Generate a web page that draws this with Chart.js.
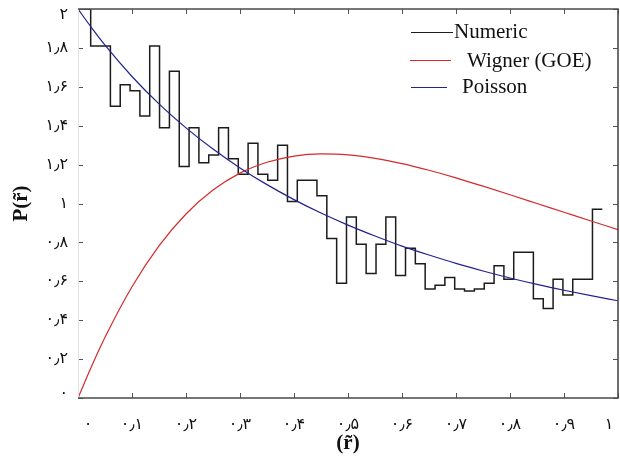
<!DOCTYPE html>
<html>
<head>
<meta charset="utf-8">
<title>P(r̃)</title>
<script src="https://cdn.jsdelivr.net/npm/chart.js@4.4.0/dist/chart.umd.min.js"></script>
<style>
  html, body { margin: 0; padding: 0; background: #fff; }
  #wrap { width: 620px; height: 458px; }
</style>
</head>
<body>
<div id="wrap"><canvas id="spacingChart" width="620" height="458"></canvas></div>
<script>
// --- data ---

// stairs of the numeric histogram (x where each step starts, level after it)
const numericX = [0, 0.0235, 0.0417, 0.0600, 0.0782, 0.0964, 0.1146, 0.1328, 0.1510, 0.1693,
  0.1875, 0.2057, 0.2239, 0.2421, 0.2604, 0.2786, 0.2968, 0.3150, 0.3332, 0.3514,
  0.3697, 0.3879, 0.4061, 0.4243, 0.4425, 0.4608, 0.4790, 0.4972, 0.5154, 0.5336,
  0.5519, 0.5701, 0.5883, 0.6065, 0.6247, 0.6429, 0.6612, 0.6794, 0.6976, 0.7158,
  0.7340, 0.7523, 0.7705, 0.7887, 0.8069, 0.8251, 0.8433, 0.8616, 0.8798, 0.8980,
  0.9162, 0.9344, 0.9527, 0.9709];
const numericY = [1.59, 2.00, 1.81, 1.81, 1.50, 1.61, 1.58, 1.45, 1.81, 1.39,
  1.68, 1.19, 1.39, 1.21, 1.25, 1.39, 1.23, 1.15, 1.31, 1.15,
  1.12, 1.30, 1.01, 1.12, 1.12, 1.04, 0.82, 0.59, 0.93, 0.79,
  0.64, 0.79, 0.93, 0.63, 0.77, 0.69, 0.56, 0.58, 0.62, 0.56,
  0.55, 0.56, 0.59, 0.68, 0.61, 0.75, 0.75, 0.51, 0.46, 0.61,
  0.53, 0.61, 0.61, 0.97];

// smooth reference curves
const curveX = [0, 0.025, 0.05, 0.1, 0.15, 0.2, 0.25, 0.3, 0.35, 0.4, 0.45,
  0.5, 0.55, 0.6, 0.65, 0.7, 0.75, 0.8, 0.85, 0.9, 0.95, 1];
const wignerY = [0, 0.162, 0.312, 0.572, 0.782, 0.946, 1.069, 1.156, 1.212, 1.244, 1.255,
  1.250, 1.232, 1.205, 1.171, 1.132, 1.089, 1.045, 1.000, 0.955, 0.910, 0.866];
const poissonY = [2.000, 1.904, 1.814, 1.653, 1.512, 1.389, 1.280, 1.183, 1.097, 1.020, 0.951,
  0.889, 0.833, 0.781, 0.735, 0.692, 0.653, 0.617, 0.584, 0.554, 0.526, 0.500];

// tick labels (Persian digits)
const xTickLabels = ['۰', '۰٫۱', '۰٫۲', '۰٫۳', '۰٫۴', '۰٫۵', '۰٫۶', '۰٫۷', '۰٫۸', '۰٫۹', '۱'];
const yTickLabels = ['۰', '۰٫۲', '۰٫۴', '۰٫۶', '۰٫۸', '۱', '۱٫۲', '۱٫۴', '۱٫۶', '۱٫۸', '۲'];

const seriesNames = ['Numeric', 'Wigner (GOE)', 'Poisson'];
const seriesColors = ['#1c1c1c', '#d42a2a', '#23238f'];

const toPoints = (xs, ys) => xs.map((x, i) => ({ x: x, y: ys[i] }));

// --- box with inward ticks on all four sides (MATLAB look) ---
const frameTicks = {
  id: 'frameTicks',
  afterDatasetsDraw(chart) {
    const { ctx, chartArea: a, scales } = chart;
    const len = 5;
    ctx.save();
    ctx.strokeStyle = '#555';
    ctx.lineWidth = 1;
    ctx.beginPath();
    scales.x.ticks.forEach(t => {
      const px = Math.round(scales.x.getPixelForValue(t.value)) + 0.5;
      ctx.moveTo(px, a.bottom); ctx.lineTo(px, a.bottom - len);
      ctx.moveTo(px, a.top); ctx.lineTo(px, a.top + len);
    });
    scales.y.ticks.forEach(t => {
      const py = Math.round(scales.y.getPixelForValue(t.value)) + 0.5;
      ctx.moveTo(a.left, py); ctx.lineTo(a.left + len, py);
      ctx.moveTo(a.right, py); ctx.lineTo(a.right - len, py);
    });
    ctx.stroke();

    ctx.strokeStyle = '#e2e2e2';
    ctx.beginPath();
    ctx.moveTo(a.left + 0.5, a.top); ctx.lineTo(a.left + 0.5, a.bottom);
    ctx.stroke();

    ctx.strokeStyle = '#4a4a4a';
    ctx.lineWidth = 1.6;
    ctx.beginPath();
    ctx.moveTo(a.left, a.top); ctx.lineTo(a.right, a.top);
    ctx.lineTo(a.right, a.bottom); ctx.lineTo(a.left, a.bottom);
    ctx.stroke();
    ctx.restore();
  }
};

// --- legend inside the plot, top right ---
const insideLegend = {
  id: 'insideLegend',
  afterDraw(chart) {
    const ctx = chart.ctx;
    const rows = [
      { x1: 411, x2: 453, ly: 32.5, tx: 454, ty: 37.5 },
      { x1: 410, x2: 451, ly: 60.5, tx: 467, ty: 66.5 },
      { x1: 411, x2: 447, ly: 87.5, tx: 462, ty: 92.5 }
    ];
    ctx.save();
    ctx.font = '21px "Liberation Serif", "Times New Roman", serif';
    ctx.textBaseline = 'alphabetic';
    ctx.textAlign = 'left';
    rows.forEach((r, i) => {
      ctx.strokeStyle = seriesColors[i];
      ctx.lineWidth = 1.2;
      ctx.beginPath();
      ctx.moveTo(r.x1, r.ly); ctx.lineTo(r.x2, r.ly);
      ctx.stroke();
      ctx.fillStyle = '#111';
      ctx.fillText(seriesNames[i], r.tx, r.ty);
    });
    ctx.restore();
  }
};

// --- nudge the end tick labels inward, like the original ---
const endLabels = {
  id: 'endLabels',
  beforeDraw(chart) {
    const shift = (scale, first, last) => {
      const items = scale.getLabelItems();
      if (!items || !items.length) return;
      const a = items[0], b = items[items.length - 1];
      if (a._moved) return;
      a.options.translation[first[0]] += first[1];
      b.options.translation[last[0]] += last[1];
      a._moved = true;
    };
    shift(chart.scales.x, [0, 10], [0, -9]);
    shift(chart.scales.y, [1, -4], [1, 6]);
  }
};

const tickFont = { family: '"DejaVu Sans", sans-serif', size: 16 };
const titleFont = { family: '"Liberation Serif", "Times New Roman", serif', size: 21, weight: 'bold' };

new Chart(document.getElementById('spacingChart'), {
  type: 'line',
  data: {
    datasets: [
      {
        label: seriesNames[0],
        data: toPoints(numericX, numericY),
        borderColor: seriesColors[0],
        borderWidth: 1.5,
        stepped: 'after',
        pointRadius: 0,
        fill: false,
        order: 2
      },
      {
        label: seriesNames[1],
        data: toPoints(curveX, wignerY),
        borderColor: seriesColors[1],
        borderWidth: 1.2,
        cubicInterpolationMode: 'monotone',
        pointRadius: 0,
        fill: false,
        order: 1
      },
      {
        label: seriesNames[2],
        data: toPoints(curveX, poissonY),
        borderColor: seriesColors[2],
        borderWidth: 1.2,
        cubicInterpolationMode: 'monotone',
        pointRadius: 0,
        fill: false,
        order: 0
      }
    ]
  },
  options: {
    responsive: false,
    maintainAspectRatio: false,
    devicePixelRatio: 1,
    animation: false,
    layout: { padding: { left: 0, right: 2, top: 9, bottom: 0 } },
    plugins: {
      legend: { display: false },
      tooltip: { enabled: false }
    },
    scales: {
      x: {
        type: 'linear',
        min: 0,
        max: 1,
        grid: { display: false, drawTicks: false },
        border: { display: false },
        ticks: {
          stepSize: 0.1,
          autoSkip: false,
          maxRotation: 0,
          padding: 17,
          color: '#111',
          font: tickFont,
          callback: (v, i) => xTickLabels[i]
        },
        title: {
          display: true,
          text: '(r̃)',
          color: '#111',
          font: titleFont,
          padding: { top: 0, bottom: 2 }
        },
        afterFit: (scale) => {
          scale.height = 60;
          scale.paddingLeft = 0;
          scale.paddingRight = 0;
        }
      },
      y: {
        min: 0,
        max: 2,
        grid: { display: false, drawTicks: false },
        border: { display: false },
        ticks: {
          stepSize: 0.2,
          autoSkip: false,
          padding: 10,
          color: '#111',
          font: tickFont,
          callback: (v, i) => yTickLabels[i]
        },
        title: {
          display: true,
          text: 'P(r̃)',
          color: '#111',
          font: titleFont,
          padding: { top: 9, bottom: 0 }
        },
        afterFit: (scale) => {
          scale.width = 78;
          scale.paddingTop = 0;
          scale.paddingBottom = 0;
        }
      }
    }
  },
  plugins: [endLabels, frameTicks, insideLegend]
});
</script>
</body>
</html>
